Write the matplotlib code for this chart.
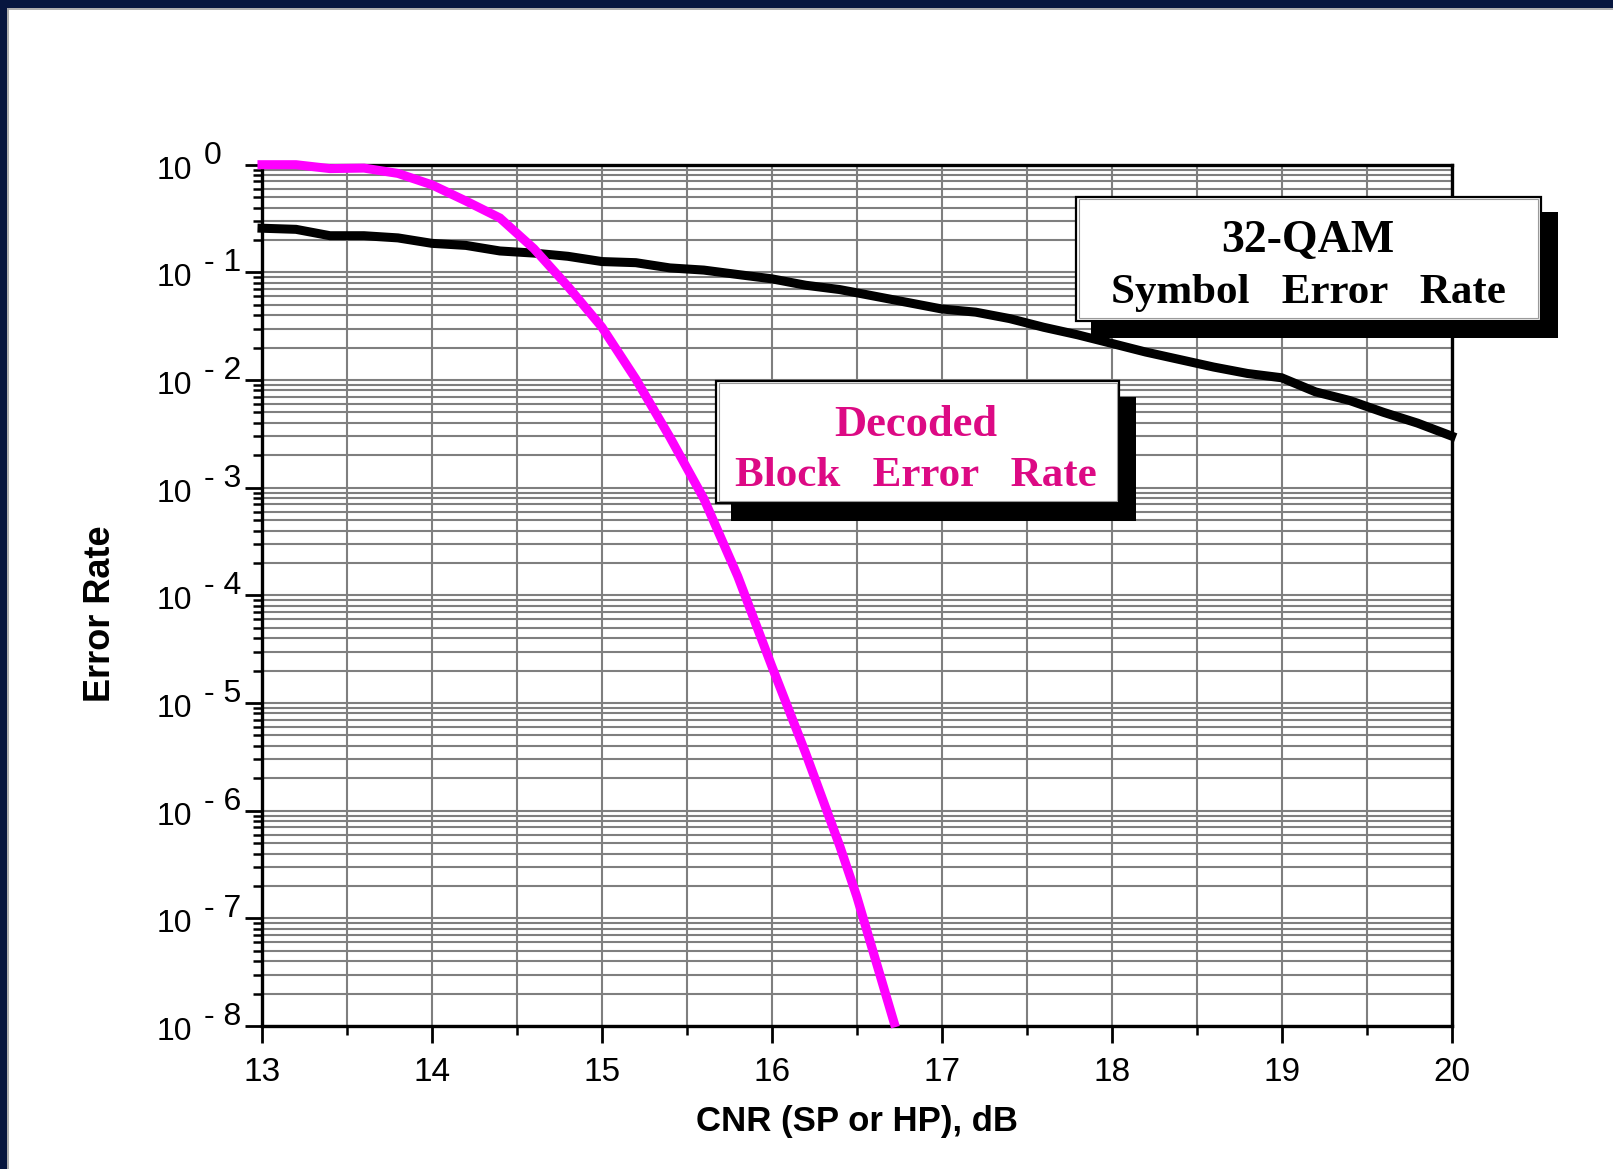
import matplotlib
matplotlib.use("Agg")
import matplotlib.pyplot as plt
from matplotlib.patches import Rectangle
from matplotlib.ticker import LogLocator, MultipleLocator, NullFormatter
import numpy as np

# data (CNR in dB, error rates)
cnr_ser = [13.0, 13.2, 13.4, 13.6, 13.8, 14.0, 14.2, 14.4, 14.6, 14.8,
           15.0, 15.2, 15.4, 15.6, 15.8, 16.0, 16.2, 16.4, 16.6, 16.8,
           17.0, 17.2, 17.4, 17.6, 17.8, 18.0, 18.2, 18.4, 18.6, 18.8,
           19.0, 19.2, 19.4, 19.6, 19.8, 20.0]
ser = [0.257, 0.251, 0.219, 0.219, 0.209, 0.186, 0.178, 0.158, 0.151, 0.141,
       0.126, 0.123, 0.110, 0.105, 0.0955, 0.0871, 0.0759, 0.0692, 0.0603, 0.0525,
       0.0457, 0.0427, 0.0372, 0.0309, 0.0263, 0.0219, 0.0182, 0.0155, 0.0132, 0.0115,
       0.0105, 0.00776, 0.00646, 0.00501, 0.00398, 0.00302]

cnr_blk = [13.0, 13.2, 13.4, 13.6, 13.8, 14.0, 14.2, 14.4, 14.6, 14.8,
           15.0, 15.2, 15.4, 15.6, 15.8, 16.0, 16.2, 16.4, 16.5, 16.72]
blk = [1.0, 1.0, 0.92, 0.93, 0.83, 0.65, 0.46, 0.32, 0.166, 0.074,
       0.031, 0.0102, 0.00295, 7.9e-4, 1.5e-4, 2.2e-5, 3.4e-6, 4.7e-7, 1.6e-7, 1.07e-8]

x_ticks = [13, 14, 15, 16, 17, 18, 19, 20]
y_decades = [0, -1, -2, -3, -4, -5, -6, -7, -8]

W, H = 1613, 1169
SANS = 'Liberation Sans'
SERIF = 'Liberation Serif'
PINK_TXT = '#dc0a84'


def fx(px):
    return px / W


def fy(py):
    return 1 - py / H


fig = plt.figure(figsize=(W / 100, H / 100), dpi=100, facecolor='white')

# slide frame (navy strip on top and left)
fig.patches.append(Rectangle((0, fy(8)), 1, 1 - fy(8), transform=fig.transFigure,
                             facecolor='#07163f', edgecolor='none', zorder=0))
fig.patches.append(Rectangle((0, 0), fx(7), 1, transform=fig.transFigure,
                             facecolor='#07163f', edgecolor='none', zorder=0))
fig.add_artist(plt.Line2D([fx(8), 1], [fy(9), fy(9)], color='#a0a0a0', lw=1.2,
                          transform=fig.transFigure))
fig.add_artist(plt.Line2D([fx(8), fx(8)], [fy(9), 0], color='#a0a0a0', lw=1.2,
                          transform=fig.transFigure))

ax = fig.add_axes([fx(262), fy(1026), fx(1451.5) - fx(262), fy(164.7) - fy(1026)])
ax.set_yscale('log')
ax.set_xlim(13, 20)
ax.set_ylim(1e-8, 1)

ax.set_xticks(x_ticks)
ax.set_xticklabels([str(t) for t in x_ticks], fontsize=24, family=SANS)
ax.xaxis.set_minor_locator(MultipleLocator(0.5))
ax.yaxis.set_major_locator(LogLocator(base=10, numticks=20))
ax.yaxis.set_minor_locator(LogLocator(base=10, subs=np.arange(2, 10), numticks=100))
ax.yaxis.set_minor_formatter(NullFormatter())
ax.tick_params(axis='y', which='both', labelleft=False)
ax.tick_params(which='major', direction='out', length=12, width=2, color='black')
ax.tick_params(which='minor', direction='out', length=6.5, width=1.8, color='black')
ax.tick_params(axis='x', which='major', pad=10)

ax.grid(True, which='both', color='#7f7f7f', lw=1.5)
ax.set_axisbelow(True)
for s in ax.spines.values():
    s.set_linewidth(2.4)
    s.set_color('black')

# y tick labels drawn as "10" with a raised exponent
for d in y_decades:
    ax.annotate('10', xy=(0, 10.0 ** d), xycoords=('axes fraction', 'data'),
                xytext=(-70, -14), textcoords='offset pixels', ha='right', va='baseline',
                fontsize=23, family=SANS, annotation_clip=False)
    sup = '0' if d == 0 else '- %d' % (-d)
    ax.annotate(sup, xy=(0, 10.0 ** d), xycoords=('axes fraction', 'data'),
                xytext=(-58, 1), textcoords='offset pixels', ha='left', va='baseline',
                fontsize=23, family=SANS, annotation_clip=False)

ax.plot(cnr_ser, ser, color='black', lw=6.5, solid_joinstyle='miter', clip_on=False, zorder=3)
ax.plot(cnr_blk, blk, color='#ff00ff', lw=6.5, solid_joinstyle='miter', clip_on=False, zorder=4)

fig.text(fx(857), fy(1131), 'CNR (SP or HP), dB', ha='center', va='baseline',
         fontsize=25, fontweight='bold', family=SANS)
fig.text(fx(100), fy(614), 'Error Rate', ha='center', va='center', rotation=90,
         fontsize=26, fontweight='bold', family=SANS)


# label boxes with a drop shadow
def shadow_box(x0, y0, x1, y1, sx0, sy0, sx1, sy1):
    fig.patches.append(Rectangle((fx(sx0), fy(sy1)), fx(sx1) - fx(sx0), fy(sy0) - fy(sy1),
                                 transform=fig.transFigure, facecolor='black',
                                 edgecolor='none', zorder=5))
    fig.patches.append(Rectangle((fx(x0), fy(y1)), fx(x1) - fx(x0), fy(y0) - fy(y1),
                                 transform=fig.transFigure, facecolor='white',
                                 edgecolor='black', lw=1.6, zorder=6))
    fig.patches.append(Rectangle((fx(x0 + 2.5), fy(y1 - 2.5)), fx(x1 - 2.5) - fx(x0 + 2.5),
                                 fy(y0 + 2.5) - fy(y1 - 2.5),
                                 transform=fig.transFigure, facecolor='none',
                                 edgecolor='#9a9a9a', lw=0.8, zorder=6))


shadow_box(1076, 197, 1540.5, 320.7, 1091.3, 212, 1558, 337.7)
shadow_box(716, 380.7, 1119, 503.3, 731.4, 396.7, 1136.3, 521)

fig.text(fx(1307.5), fy(251.7), '32-QAM', ha='center', va='baseline', fontsize=33,
         fontweight='bold', family=SERIF, color='black', zorder=7)
fig.text(fx(1308), fy(302.7), 'Symbol   Error   Rate', ha='center', va='baseline', fontsize=31,
         fontweight='bold', family=SERIF, color='black', zorder=7)
fig.text(fx(916), fy(435.7), 'Decoded', ha='center', va='baseline', fontsize=32,
         fontweight='bold', family=SERIF, color=PINK_TXT, zorder=7)
fig.text(fx(916.2), fy(486), 'Block   Error   Rate', ha='center', va='baseline', fontsize=31,
         fontweight='bold', family=SERIF, color=PINK_TXT, zorder=7)

fig.savefig('out.png', dpi=100, facecolor=fig.get_facecolor())
